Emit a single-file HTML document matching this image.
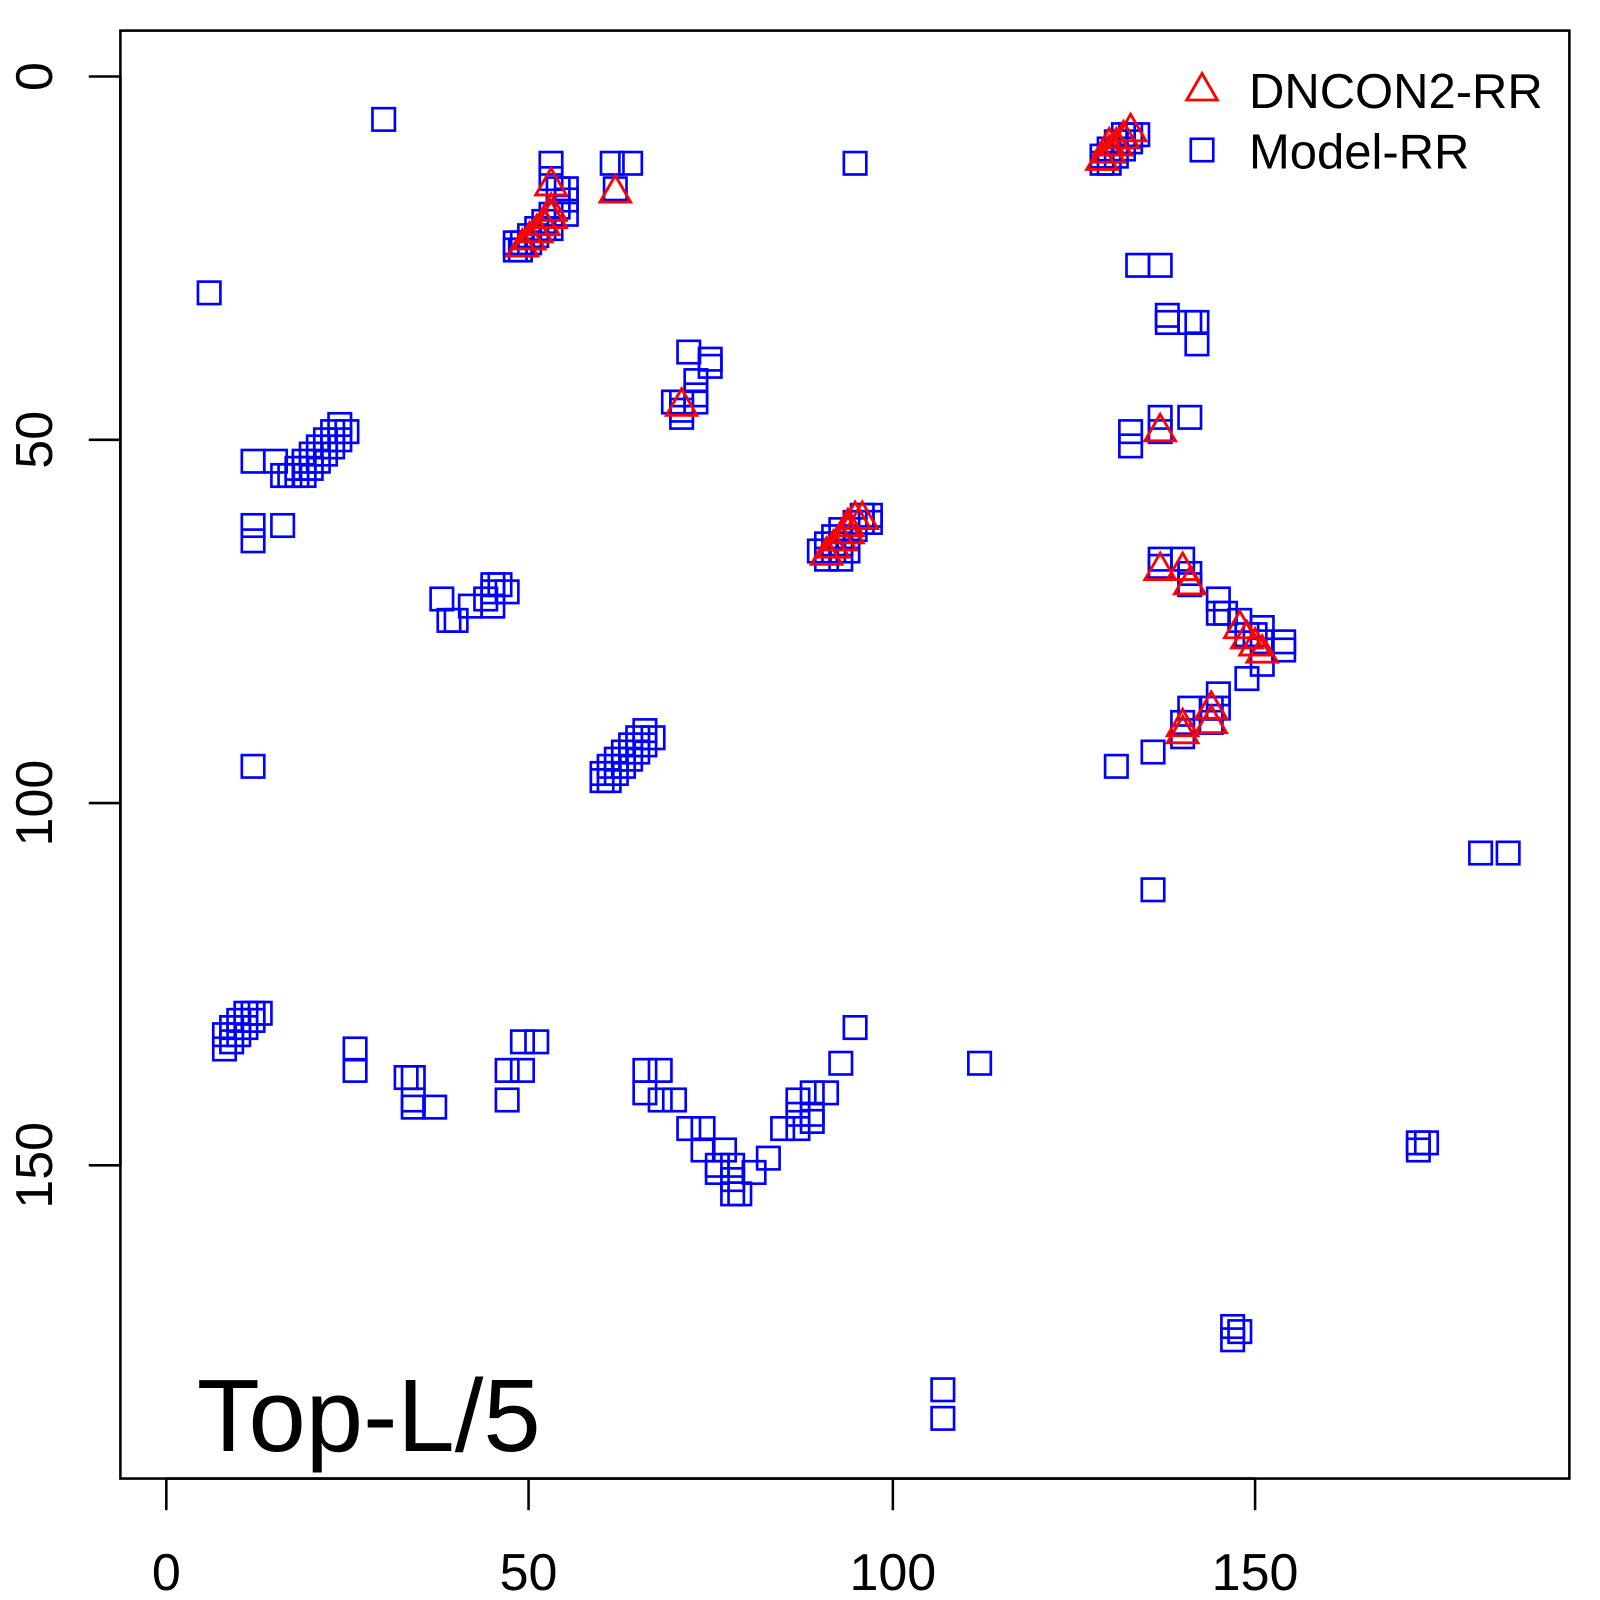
<!DOCTYPE html>
<html><head><meta charset="utf-8"><style>html,body{margin:0;padding:0;background:#fff}svg{display:block}</style></head>
<body>
<svg width="1600" height="1600" viewBox="0 0 1600 1600" xmlns="http://www.w3.org/2000/svg" font-family="Liberation Sans, sans-serif">
<defs>
<rect id="s" x="-11" y="-11" width="22" height="22" fill="none" stroke="#0000ff" stroke-width="2.6"/>
<path id="t" d="M0,-15 L15,11 L-15,11 Z" fill="none" stroke="#ff0000" stroke-width="2.8"/>
</defs>
<g transform="scale(1.0204)">
<rect x="118" y="30" width="1420" height="1419" fill="none" stroke="#000" stroke-width="2.5"/>
<g stroke="#000" stroke-width="2.5">
<line x1="163" y1="1449" x2="163" y2="1480"/><line x1="518" y1="1449" x2="518" y2="1480"/><line x1="875" y1="1449" x2="875" y2="1480"/><line x1="1230" y1="1449" x2="1230" y2="1480"/>
<line x1="163" y1="1449" x2="1230" y2="1449"/>
<line x1="118" y1="75" x2="87" y2="75"/><line x1="118" y1="431" x2="87" y2="431"/><line x1="118" y1="787" x2="87" y2="787"/><line x1="118" y1="1142" x2="87" y2="1142"/>
<line x1="118" y1="75" x2="118" y2="1142"/>
</g>
<g font-size="51" text-anchor="middle" fill="#000">
<text x="163" y="1558">0</text><text x="518" y="1558">50</text><text x="875" y="1558">100</text><text x="1230" y="1558">150</text>
<text transform="translate(51,75) rotate(-90)">0</text>
<text transform="translate(51,431) rotate(-90)">50</text>
<text transform="translate(51,787) rotate(-90)">100</text>
<text transform="translate(51,1142) rotate(-90)">150</text>
</g>
<text x="193" y="1422" font-size="101" fill="#000">Top-L/5</text>
<use href="#t" x="1178" y="87"/><text x="1224" y="106" font-size="48">DNCON2-RR</text>
<use href="#s" x="1178" y="147"/><text x="1224" y="165" font-size="48">Model-RR</text>
<g>
<use href="#s" x="376" y="117"/><use href="#s" x="205" y="287"/><use href="#s" x="838" y="160"/>
<use href="#s" x="600" y="160"/><use href="#s" x="618" y="160"/><use href="#s" x="603" y="185"/>
<use href="#s" x="505" y="238"/><use href="#s" x="510" y="245"/><use href="#s" x="512" y="238"/><use href="#s" x="519" y="231"/><use href="#s" x="526" y="224"/><use href="#s" x="533" y="217"/><use href="#s" x="540" y="210"/><use href="#s" x="547" y="203"/><use href="#s" x="555" y="196"/><use href="#s" x="555" y="185"/><use href="#s" x="555" y="210"/><use href="#s" x="540" y="160"/><use href="#s" x="540" y="175"/><use href="#s" x="547" y="185"/><use href="#s" x="519" y="238"/><use href="#s" x="526" y="231"/><use href="#s" x="533" y="224"/><use href="#s" x="540" y="224"/><use href="#s" x="505" y="245"/>
<use href="#s" x="1080" y="160"/><use href="#s" x="1080" y="153"/><use href="#s" x="1087" y="146"/><use href="#s" x="1094" y="139"/><use href="#s" x="1101" y="132"/><use href="#s" x="1108" y="132"/><use href="#s" x="1115" y="132"/><use href="#s" x="1094" y="153"/><use href="#s" x="1101" y="146"/><use href="#s" x="1087" y="160"/><use href="#s" x="1108" y="139"/>
<use href="#s" x="1115" y="260"/><use href="#s" x="1137" y="260"/><use href="#s" x="1144" y="309"/><use href="#s" x="1144" y="316"/><use href="#s" x="1166" y="316"/><use href="#s" x="1173" y="316"/><use href="#s" x="1173" y="337"/>
<use href="#s" x="675" y="345"/><use href="#s" x="696" y="352"/><use href="#s" x="696" y="359"/><use href="#s" x="682" y="373"/><use href="#s" x="682" y="387"/><use href="#s" x="660" y="394"/><use href="#s" x="668" y="394"/><use href="#s" x="682" y="394"/><use href="#s" x="668" y="402"/><use href="#s" x="668" y="409"/>
<use href="#s" x="1137" y="409"/><use href="#s" x="1166" y="409"/><use href="#s" x="1108" y="423"/><use href="#s" x="1108" y="437"/><use href="#s" x="1137" y="423"/>
<use href="#s" x="248" y="452"/><use href="#s" x="270" y="452"/><use href="#s" x="277" y="466"/><use href="#s" x="284" y="466"/><use href="#s" x="291" y="459"/><use href="#s" x="298" y="452"/><use href="#s" x="298" y="466"/><use href="#s" x="305" y="445"/><use href="#s" x="312" y="438"/><use href="#s" x="319" y="431"/><use href="#s" x="326" y="423"/><use href="#s" x="333" y="416"/><use href="#s" x="340" y="423"/><use href="#s" x="305" y="459"/><use href="#s" x="312" y="452"/><use href="#s" x="319" y="445"/><use href="#s" x="326" y="438"/><use href="#s" x="333" y="431"/><use href="#s" x="291" y="466"/><use href="#s" x="298" y="459"/>
<use href="#s" x="248" y="515"/><use href="#s" x="248" y="530"/><use href="#s" x="277" y="515"/>
<use href="#s" x="433" y="587"/><use href="#s" x="440" y="608"/><use href="#s" x="447" y="608"/><use href="#s" x="461" y="594"/><use href="#s" x="483" y="594"/><use href="#s" x="483" y="580"/><use href="#s" x="490" y="573"/><use href="#s" x="497" y="580"/><use href="#s" x="483" y="573"/><use href="#s" x="476" y="587"/>
<use href="#s" x="803" y="540"/><use href="#s" x="810" y="548"/><use href="#s" x="810" y="533"/><use href="#s" x="817" y="540"/><use href="#s" x="817" y="526"/><use href="#s" x="824" y="533"/><use href="#s" x="824" y="519"/><use href="#s" x="831" y="526"/><use href="#s" x="838" y="512"/><use href="#s" x="845" y="505"/><use href="#s" x="853" y="505"/><use href="#s" x="838" y="519"/><use href="#s" x="845" y="512"/><use href="#s" x="853" y="512"/><use href="#s" x="824" y="548"/><use href="#s" x="831" y="540"/>
<use href="#s" x="1137" y="548"/><use href="#s" x="1159" y="548"/><use href="#s" x="1166" y="562"/><use href="#s" x="1166" y="573"/><use href="#s" x="1137" y="555"/><use href="#s" x="1194" y="587"/><use href="#s" x="1194" y="601"/><use href="#s" x="1201" y="601"/><use href="#s" x="1215" y="608"/><use href="#s" x="1222" y="622"/><use href="#s" x="1230" y="622"/><use href="#s" x="1237" y="615"/><use href="#s" x="1237" y="629"/><use href="#s" x="1258" y="629"/><use href="#s" x="1258" y="637"/><use href="#s" x="1237" y="651"/><use href="#s" x="1222" y="665"/><use href="#s" x="1194" y="680"/><use href="#s" x="1194" y="694"/><use href="#s" x="1187" y="694"/><use href="#s" x="1166" y="694"/><use href="#s" x="1159" y="708"/><use href="#s" x="1159" y="722"/><use href="#s" x="1187" y="708"/><use href="#s" x="1130" y="737"/><use href="#s" x="1094" y="751"/><use href="#s" x="1130" y="872"/>
<use href="#s" x="590" y="765"/><use href="#s" x="590" y="758"/><use href="#s" x="597" y="751"/><use href="#s" x="604" y="744"/><use href="#s" x="611" y="737"/><use href="#s" x="618" y="730"/><use href="#s" x="625" y="723"/><use href="#s" x="632" y="716"/><use href="#s" x="640" y="723"/><use href="#s" x="597" y="765"/><use href="#s" x="604" y="758"/><use href="#s" x="611" y="751"/><use href="#s" x="618" y="744"/><use href="#s" x="625" y="737"/><use href="#s" x="632" y="730"/>
<use href="#s" x="248" y="751"/><use href="#s" x="1451" y="836"/><use href="#s" x="1478" y="836"/>
<use href="#s" x="220" y="1028"/><use href="#s" x="220" y="1014"/><use href="#s" x="227" y="1007"/><use href="#s" x="234" y="1000"/><use href="#s" x="241" y="993"/><use href="#s" x="248" y="993"/><use href="#s" x="255" y="993"/><use href="#s" x="227" y="1021"/><use href="#s" x="234" y="1014"/><use href="#s" x="241" y="1007"/><use href="#s" x="248" y="1000"/>
<use href="#s" x="348" y="1028"/><use href="#s" x="348" y="1049"/><use href="#s" x="398" y="1056"/><use href="#s" x="405" y="1056"/><use href="#s" x="405" y="1078"/><use href="#s" x="405" y="1085"/><use href="#s" x="426" y="1085"/><use href="#s" x="497" y="1049"/><use href="#s" x="497" y="1078"/><use href="#s" x="512" y="1049"/><use href="#s" x="512" y="1021"/><use href="#s" x="526" y="1021"/>
<use href="#s" x="632" y="1049"/><use href="#s" x="647" y="1049"/><use href="#s" x="632" y="1071"/><use href="#s" x="647" y="1078"/><use href="#s" x="661" y="1078"/><use href="#s" x="675" y="1106"/><use href="#s" x="689" y="1106"/><use href="#s" x="689" y="1127"/><use href="#s" x="710" y="1127"/><use href="#s" x="703" y="1142"/><use href="#s" x="718" y="1142"/><use href="#s" x="703" y="1149"/><use href="#s" x="718" y="1156"/><use href="#s" x="718" y="1170"/><use href="#s" x="725" y="1170"/><use href="#s" x="739" y="1149"/><use href="#s" x="753" y="1135"/><use href="#s" x="767" y="1106"/><use href="#s" x="782" y="1106"/><use href="#s" x="782" y="1078"/><use href="#s" x="782" y="1092"/><use href="#s" x="796" y="1071"/><use href="#s" x="796" y="1092"/><use href="#s" x="796" y="1099"/><use href="#s" x="810" y="1071"/><use href="#s" x="824" y="1042"/><use href="#s" x="838" y="1007"/>
<use href="#s" x="960" y="1042"/><use href="#s" x="924" y="1362"/><use href="#s" x="924" y="1390"/><use href="#s" x="1208" y="1300"/><use href="#s" x="1215" y="1305"/><use href="#s" x="1208" y="1313"/><use href="#s" x="1390" y="1120"/><use href="#s" x="1398" y="1120"/><use href="#s" x="1390" y="1127"/>
</g>
<g>
<use href="#t" x="540" y="180"/><use href="#t" x="540" y="205"/><use href="#t" x="540" y="212"/><use href="#t" x="533" y="219"/><use href="#t" x="526" y="226"/><use href="#t" x="519" y="233"/><use href="#t" x="512" y="240"/><use href="#t" x="603" y="187"/>
<use href="#t" x="1080" y="155"/><use href="#t" x="1087" y="148"/><use href="#t" x="1094" y="141"/><use href="#t" x="1101" y="134"/><use href="#t" x="1108" y="127"/><use href="#t" x="1087" y="141"/>
<use href="#t" x="668" y="396"/><use href="#t" x="1137" y="421"/>
<use href="#t" x="810" y="542"/><use href="#t" x="817" y="535"/><use href="#t" x="824" y="528"/><use href="#t" x="831" y="514"/><use href="#t" x="838" y="507"/><use href="#t" x="845" y="507"/><use href="#t" x="831" y="521"/>
<use href="#t" x="1137" y="557"/><use href="#t" x="1159" y="557"/><use href="#t" x="1166" y="571"/><use href="#t" x="1215" y="614"/><use href="#t" x="1222" y="624"/><use href="#t" x="1230" y="631"/><use href="#t" x="1237" y="638"/><use href="#t" x="1159" y="710"/><use href="#t" x="1159" y="717"/><use href="#t" x="1187" y="693"/><use href="#t" x="1187" y="707"/>
</g>
</g>
</svg>
</body></html>
